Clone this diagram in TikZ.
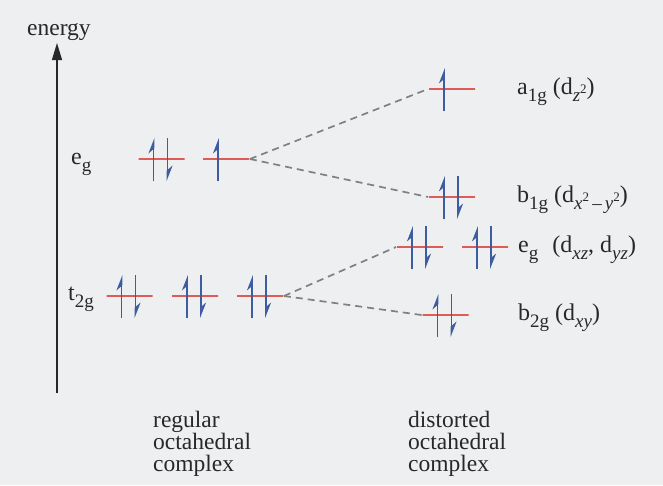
\documentclass[tikz,border=0pt]{standalone}
\usepackage{fontspec}
\setmainfont{Liberation Serif}
\usetikzlibrary{arrows.meta}
\definecolor{bg}{RGB}{238,239,240}
\definecolor{ink}{RGB}{40,40,42}
\definecolor{lvl}{RGB}{222,92,88}
\definecolor{spin}{RGB}{62,92,160}
\definecolor{dashgray}{RGB}{128,128,128}
\newcommand\lsub[1]{\raisebox{-0.3em}{\fontsize{19}{19}\selectfont #1}}
\newcommand\lsup[1]{\raisebox{0.42em}{\fontsize{13}{13}\selectfont #1}}
\tikzset{
  level/.style={draw=lvl, line width=1.8pt, rectangle, minimum width=46pt, minimum height=0pt, inner sep=0pt},
  spinup/.style={draw=spin, fill=spin, line width=1.8pt, -{Stealth[left,length=13pt,width=10pt]}},
  spindown/.style={draw=spin, fill=spin, line width=1.8pt, -{Stealth[left,length=13pt,width=10pt]}},
  corr/.style={draw=dashgray, line width=1.7pt, dash pattern=on 7pt off 5pt},
  lbl/.style={text=ink, font=\fontsize{24}{24}\selectfont, inner sep=0pt},
  foot/.style={text=ink, font=\fontsize{23.5}{23.5}\selectfont, inner sep=0pt, anchor=base west},
  axis/.style={draw=ink, fill=ink, line width=1.3pt, -{Triangle[length=17pt,width=10pt]}}
}
\begin{document}
\begin{tikzpicture}[x=1pt,y=-1pt]
\fill[bg] (0,0) rectangle (663,485);
\useasboundingbox (0,0) rectangle (663,485);
% axis
\coordinate (axbot) at (57,393);
\coordinate (axtop) at (57,43);
\draw[axis] (axbot) -- (axtop);
\node[foot] (energy) at (27,35) {energy};
% regular octahedral levels
\node[level] (L1) at (161.5,159) {};
\node[level] (L2) at (226,159) {};
\node[level] (T1) at (129.5,296) {};
\node[level] (T2) at (195,296) {};
\node[level] (T3) at (260,296) {};
% distorted levels
\node[level] (A)  at (452,89) {};
\node[level] (B1) at (452,197) {};
\node[level] (E1) at (420,247) {};
\node[level] (E2) at (485,247) {};
\node[level] (B2) at (445.5,315) {};
% electrons
\foreach \n in {L1,T1,T2,T3,B1,E1,E2,B2}{
  \draw[spinup] ([xshift=-8pt,yshift=-22pt]\n.center) -- ++(0,-43);
  \draw[spindown] ([xshift=6pt,yshift=21pt]\n.center) -- ++(0,43);
}
\foreach \n in {L2,A}{
  \draw[spinup] ([xshift=-8pt,yshift=-22pt]\n.center) -- ++(0,-43);
}
% correlation lines
\draw[corr] (L2.east) -- (A.west);
\draw[corr] (L2.east) -- (B1.west);
\draw[corr] (T3.east) -- (E1.west);
\draw[corr] (T3.east) -- (B2.west);
% labels
\node[lbl, anchor=base west] (egl) at (71,164) {e\lsub{g}};
\node[lbl, anchor=base west] (t2gl) at (68,300) {t\lsub{2g}};
\node[lbl, anchor=base west] (a1gl) at (517,94) {a\lsub{1g} (d\lsub{\textit{z}\lsup{2}})};
\node[lbl, anchor=base west] (b1gl) at (517,202) {b\lsub{1g} (d\lsub{\textit{x}\lsup{2}\,–\,\textit{y}\lsup{2}})};
\node[lbl, anchor=base west] (egr) at (518,252) {e\lsub{g}\,\, (d\lsub{\textit{xz}}, d\lsub{\textit{yz}})};
\node[lbl, anchor=base west] (b2gl) at (518,320) {b\lsub{2g} (d\lsub{\textit{xy}})};
\node[foot] (reg1) at (153,427) {regular};
\node[foot] (reg2) at (153,449) {octahedral};
\node[foot] (reg3) at (153,471) {complex};
\node[foot] (dis1) at (408,427) {distorted};
\node[foot] (dis2) at (408,449) {octahedral};
\node[foot] (dis3) at (408,471) {complex};
\end{tikzpicture}
\end{document}
